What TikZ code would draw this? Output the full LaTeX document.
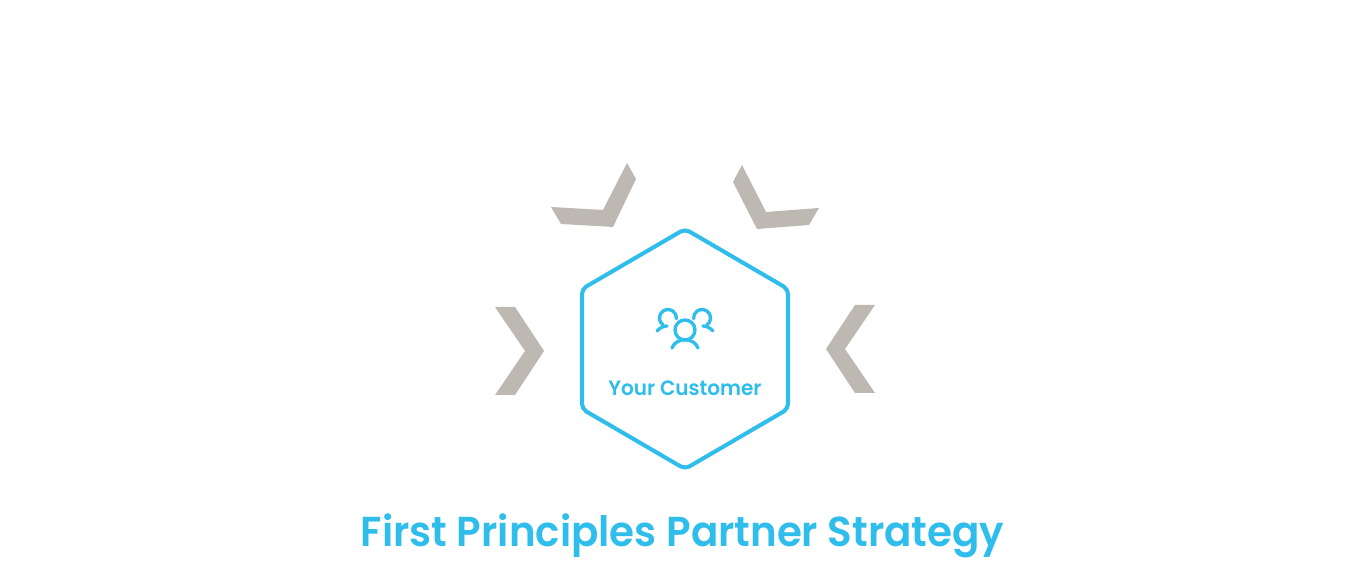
\documentclass[tikz,border=0pt]{standalone}
\usepackage{fontspec}
\setmainfont[FakeStretch=0.965]{Poppins SemiBold}
\usepackage{tikz}
\definecolor{fpblue}{HTML}{2FBDEB}
\definecolor{fpgray}{HTML}{BDB8B1}
\tikzset{
  chevron/.style={fill=fpgray, draw=none},
  icon/.style={draw=fpblue, line width=0.95pt, line cap=round},
  label/.style={text=fpblue, inner sep=0pt, anchor=base},
}
\begin{document}
\begin{tikzpicture}[x=0.01cm, y=0.01cm]
  \useasboundingbox (0,0) rectangle (1366,577);
  % chevrons
  \fill[chevron] (495,270) -- (515,270) -- (544,226) -- (515,182) -- (495,182) -- (525,226) -- cycle;
  \fill[chevron] (875,272) -- (855,272) -- (826,228) -- (855,184) -- (875,184) -- (845,228) -- cycle;
  \fill[chevron] (627,414) -- (636,398) -- (613,350) -- (561,353) -- (551,370) -- (603,367) -- cycle;
  \fill[chevron] (742,412) -- (733,395) -- (757,348) -- (809,352) -- (819,369) -- (766,365) -- cycle;
  % hexagon
  \draw[fpblue, line width=1.15pt, rounded corners=0.05cm, line join=round]
    (685,348) -- (788,288) -- (788,168) -- (685,108) -- (582,168) -- (582,288) -- cycle;
  % people
  \draw[icon] (685,247) circle (0.1cm);
  \draw[icon] (672,229) .. controls (676,240) and (694,240) .. (698,229);
  \draw[icon] (663.1,252) arc (235:-5:0.085cm);
  \draw[icon] (706.9,252) arc (-55:185:0.085cm);
  \draw[icon] (657,246) .. controls (660,249) and (663,251) .. (667,251);
  \draw[icon] (713,246) .. controls (710,249) and (707,251) .. (703,251);
  % labels
  \node[label, font=\fontsize{5.9}{7}\selectfont] (customer) at (685,181) {Your Customer};
  \node[label, font=\fontsize{11.9}{15}\selectfont] (title) at (682.5,30) {First Principles Partner Strategy};
\end{tikzpicture}
\end{document}
